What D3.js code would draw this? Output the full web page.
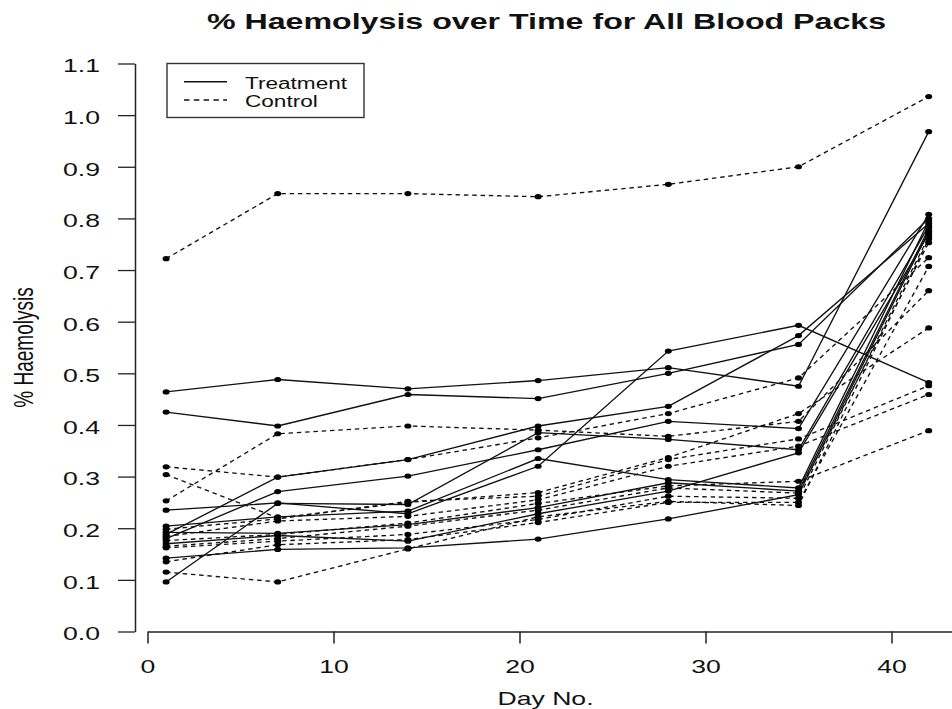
<!DOCTYPE html>
<html>
<head>
<meta charset="utf-8">
<script src="https://cdn.jsdelivr.net/npm/d3@7"></script>
<style>
  html, body { margin: 0; padding: 0; background: #fff; }
  svg { display: block; }
</style>
</head>
<body>
<svg id="chart" width="952" height="709"></svg>
<script>
// Sampling days for every blood pack
const days = [1, 7, 14, 21, 28, 35, 42];

// % haemolysis per treated pack, one row per pack, one value per sampling day
const treatmentPacks = [
  [0.464, 0.488, 0.470, 0.486, 0.511, 0.475, 0.968],
  [0.425, 0.398, 0.459, 0.451, 0.500, 0.556, 0.800],
  [0.235, 0.249, 0.228, 0.320, 0.543, 0.593, 0.482],
  [0.188, 0.299, 0.333, 0.398, 0.436, 0.573, 0.790],
  [0.180, 0.271, 0.301, 0.352, 0.407, 0.393, 0.808],
  [0.096, 0.248, 0.246, 0.385, 0.372, 0.352, 0.785],
  [0.204, 0.222, 0.233, 0.335, 0.294, 0.278, 0.795],
  [0.192, 0.190, 0.207, 0.240, 0.288, 0.272, 0.780],
  [0.170, 0.186, 0.175, 0.228, 0.272, 0.346, 0.770],
  [0.142, 0.159, 0.162, 0.179, 0.218, 0.265, 0.775]
];

// % haemolysis per control pack
const controlPacks = [
  [0.722, 0.848, 0.848, 0.842, 0.866, 0.900, 1.036],
  [0.319, 0.299, 0.333, 0.375, 0.422, 0.491, 0.724],
  [0.304, 0.220, 0.250, 0.269, 0.337, 0.422, 0.588],
  [0.253, 0.383, 0.398, 0.390, 0.378, 0.407, 0.660],
  [0.115, 0.096, 0.160, 0.222, 0.252, 0.244, 0.760],
  [0.198, 0.218, 0.252, 0.262, 0.333, 0.373, 0.476],
  [0.184, 0.214, 0.223, 0.255, 0.320, 0.359, 0.459],
  [0.176, 0.188, 0.210, 0.248, 0.282, 0.291, 0.389],
  [0.165, 0.180, 0.204, 0.235, 0.278, 0.268, 0.753],
  [0.162, 0.175, 0.188, 0.217, 0.262, 0.258, 0.765],
  [0.135, 0.168, 0.178, 0.211, 0.250, 0.250, 0.707]
];

const xTicks = [0, 10, 20, 30, 40];
const yTicks = [0, 0.1, 0.2, 0.3, 0.4, 0.5, 0.6, 0.7, 0.8, 0.9, 1.0, 1.1];

const legendLabels = ["Treatment", "Control"];
const titleText = "% Haemolysis over Time for All Blood Packs";
const xLabel = "Day No.";
const yLabel = "% Haemolysis";

// ---- drawing ----
const SX = 1.43;             // text is drawn wider than tall
const FONT = '"Liberation Sans", Arial, Helvetica, sans-serif';
const INK = "#111";
const DASH = "4.5,3.8";

const svg = d3.select("#chart");

const x = d3.scaleLinear().domain([0, 43.64]).range([147.5, 147.5 + 43.64 * 18.6]);
const y = d3.scaleLinear().domain([0, 1.1]).range([631.5, 63.5]);

function stretchedText(g, tx, ty, str, size, anchor, weight) {
  return g.append("text")
    .attr("transform", `translate(${tx},${ty}) scale(${SX},1)`)
    .attr("font-family", FONT)
    .attr("font-size", size)
    .attr("font-weight", weight || "normal")
    .attr("text-anchor", anchor)
    .attr("fill", INK)
    .text(str);
}

// Title
stretchedText(svg, 546.5, 29, titleText, 22.5, "middle", "bold");

// Y axis
const yAxis = svg.append("g")
  .attr("transform", "translate(135,0)")
  .call(d3.axisLeft(y).tickValues(yTicks).tickSize(17).tickSizeOuter(0).tickFormat(d3.format(".1f")));
yAxis.attr("font-family", FONT).attr("font-size", 18.6);
yAxis.select(".domain").attr("stroke", "#222").attr("stroke-width", 1.5);
yAxis.selectAll(".tick line").attr("stroke", "#222").attr("stroke-width", 1.3);
yAxis.selectAll(".tick text")
  .attr("x", null).attr("dy", null)
  .attr("fill", INK)
  .attr("text-anchor", "end")
  .attr("transform", `translate(-35,8.4) scale(${SX},1)`);

// X axis
const xAxis = svg.append("g")
  .attr("transform", `translate(0,${y(0)})`)
  .call(d3.axisBottom(x).tickValues(xTicks).tickSize(12).tickSizeOuter(0).tickFormat(d3.format("d")));
xAxis.attr("font-family", FONT).attr("font-size", 18.6);
xAxis.select(".domain").attr("stroke", "#222").attr("stroke-width", 1.3);
xAxis.selectAll(".tick line").attr("stroke", "#222").attr("stroke-width", 1.5);
xAxis.selectAll(".tick text")
  .attr("y", null).attr("dy", null)
  .attr("fill", INK)
  .attr("text-anchor", "middle")
  .attr("transform", `translate(0,41.2) scale(${SX},1)`);

// Axis titles
stretchedText(svg, 545.5, 705, xLabel, 18.6, "middle");
svg.append("text")
  .attr("transform", `translate(33,347.5) scale(${SX},1) rotate(-90)`)
  .attr("font-family", FONT)
  .attr("font-size", 19)
  .attr("text-anchor", "middle")
  .attr("fill", INK)
  .text(yLabel);

// Series
const line = d3.line()
  .x((d, i) => x(days[i]))
  .y(d => y(d));

const plot = svg.append("g");

function drawPacks(packs, dash) {
  const g = plot.append("g");
  g.selectAll("path")
    .data(packs)
    .join("path")
    .attr("d", line)
    .attr("fill", "none")
    .attr("stroke", INK)
    .attr("stroke-width", 1.35)
    .attr("stroke-dasharray", dash);
  packs.forEach(p => {
    g.append("g").selectAll("ellipse")
      .data(p)
      .join("ellipse")
      .attr("cx", (d, i) => x(days[i]))
      .attr("cy", d => y(d))
      .attr("rx", 3.5)
      .attr("ry", 2.6)
      .attr("fill", "#000");
  });
}

drawPacks(controlPacks, DASH);
drawPacks(treatmentPacks, null);

// Legend
const lg = svg.append("g");
lg.append("rect")
  .attr("x", 167).attr("y", 63.5).attr("width", 197).attr("height", 54)
  .attr("fill", "#fff").attr("stroke", "#333").attr("stroke-width", 1.4);
[null, "5.5,4.3"].forEach((dash, i) => {
  const ly = 81.7 + i * 18.3;
  lg.append("line")
    .attr("x1", 184).attr("x2", 227).attr("y1", ly).attr("y2", ly)
    .attr("stroke", INK).attr("stroke-width", 1.35)
    .attr("stroke-dasharray", dash);
  stretchedText(lg, 245, ly + 7.4, legendLabels[i], 15.8, "start");
});
</script>
</body>
</html>
